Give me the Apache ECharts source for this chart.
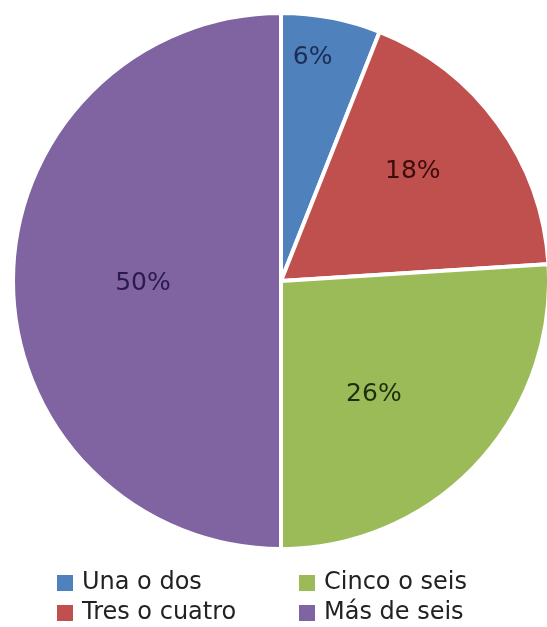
<!DOCTYPE html>
<html>
<head>
<meta charset="utf-8">
<script src="https://cdn.jsdelivr.net/npm/echarts@6/dist/echarts.min.js"></script>
<style>
  html, body { margin: 0; padding: 0; background: #ffffff; }
  #chart { width: 547px; height: 627px; }
</style>
</head>
<body>
<div id="chart"></div>
<script>
// Categories and shares (percent)
const categories = ['Una o dos', 'Tres o cuatro', 'Cinco o seis', 'Más de seis'];
const shares = [6, 18, 26, 50];

// Slice fills and the darker tone used for each slice's label
const sliceColors = ['#4f81bd', '#c0504d', '#9bbb59', '#8064a2'];
const labelColors = ['#1b2c55', '#3d0d0d', '#1e2e0c', '#2b1a4f'];

// Nudges that move each inside label away from its default spot
const labelNudge = [[6, -89], [21, -29], [-7, 20], [-1, 2]];

const font = 'DejaVu Sans, Verdana, sans-serif';

const chart = echarts.init(document.getElementById('chart'), null, { renderer: 'canvas' });

const pieData = categories.map((name, i) => ({
  name: name,
  value: shares[i],
  itemStyle: { color: sliceColors[i] },
  label: { color: labelColors[i] }
}));

const legendText = {
  fontFamily: font, fontSize: 24, lineHeight: 26,
  color: '#222222', padding: [0, 0, 0, 3]
};

function legendColumn(names, left) {
  return {
    data: names,
    orient: 'vertical',
    left: left,
    top: 570,
    height: 57,
    padding: 0,
    itemWidth: 18,
    itemHeight: 18,
    itemGap: 4,
    icon: 'rect',
    textStyle: legendText
  };
}

chart.setOption({
  animation: false,
  backgroundColor: '#ffffff',
  legend: [
    legendColumn(categories.slice(0, 2), 55),
    legendColumn(categories.slice(2, 4), 297)
  ],
  series: [{
    type: 'pie',
    center: [281, 281],
    radius: 268,
    startAngle: 90,
    clockwise: true,
    avoidLabelOverlap: false,
    itemStyle: { borderColor: '#ffffff', borderWidth: 4 },
    label: {
      show: true,
      position: 'inside',
      formatter: '{c}%',
      fontFamily: font,
      fontSize: 25
    },
    labelLine: { show: false },
    labelLayout: function (params) {
      const n = labelNudge[params.dataIndex];
      return { dx: n[0], dy: n[1] };
    },
    emphasis: { disabled: true },
    data: pieData
  }]
});
</script>
</body>
</html>
